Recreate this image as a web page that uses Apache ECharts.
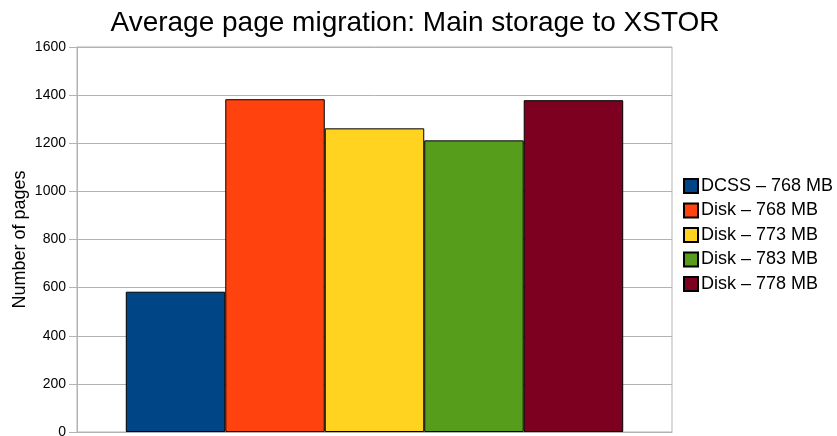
<!DOCTYPE html>
<html><head><meta charset="utf-8">
<script src="https://cdn.jsdelivr.net/npm/echarts@6/dist/echarts.min.js"></script>
<style>html,body{margin:0;padding:0;background:#fff}#c{width:837px;height:436px}</style>
</head><body><div id="c"></div>
<script>
var categories = [''];
var seriesNames = ['DCSS – 768 MB', 'Disk – 768 MB', 'Disk – 773 MB', 'Disk – 783 MB', 'Disk – 778 MB'];
var seriesValues = [583, 1383, 1262, 1212, 1379];
var seriesColors = ['#004586', '#ff420e', '#ffd320', '#579d1c', '#7e0021'];
var yTicks = [0, 200, 400, 600, 800, 1000, 1200, 1400, 1600];

var chart = echarts.init(document.getElementById('c'), null, {renderer: 'canvas'});
var font = 'Liberation Sans, Arial, sans-serif';
chart.setOption({
  animation: false,
  title: {
    text: 'Average page migration: Main storage to XSTOR',
    left: 410, textAlign: 'center', top: 4,
    textStyle: {fontFamily: font, fontSize: 28, fontWeight: 'normal', color: '#000'}
  },
  legend: {
    orient: 'vertical', left: 678, top: 172,
    itemWidth: 14, itemHeight: 14, itemGap: 6.5,
    icon: 'rect',
    textStyle: {fontFamily: font, fontSize: 18, lineHeight: 18, color: '#000', padding: [0,0,0,-2]},
    data: seriesNames
  },
  grid: {left: 77, right: 165, top: 47, bottom: 4, show: true, borderColor: '#b3b3b3', borderWidth: 1,
    containLabel: false, outerBoundsMode: 'none'},
  xAxis: {
    type: 'category', data: categories,
    axisLine: {lineStyle: {color: '#b3b3b3'}},
    axisTick: {show: false}, axisLabel: {show: false}
  },
  yAxis: {
    type: 'value', min: 0, max: 1600, interval: 200,
    name: 'Number of pages', nameLocation: 'middle', nameGap: 48, nameRotate: 90,
    nameMoveOverlap: false,
    nameTextStyle: {fontFamily: font, fontSize: 18, color: '#000'},
    axisLine: {show: true, lineStyle: {color: '#b3b3b3'}},
    axisTick: {show: true, length: 8, lineStyle: {color: '#b3b3b3'}},
    axisLabel: {fontFamily: font, fontSize: 14, color: '#000', margin: 11,
      formatter: function(v){ return yTicks.indexOf(v) >= 0 ? String(v) : ''; }},
    splitLine: {lineStyle: {color: '#b3b3b3'}}
  },
  series: seriesNames.map(function(n, i){
    return {
      name: n, type: 'bar', data: [seriesValues[i]],
      barGap: '0%', barCategoryGap: '16.4%',
      itemStyle: {color: seriesColors[i], borderColor: '#000', borderWidth: 1}
    };
  })
});
</script></body></html>
